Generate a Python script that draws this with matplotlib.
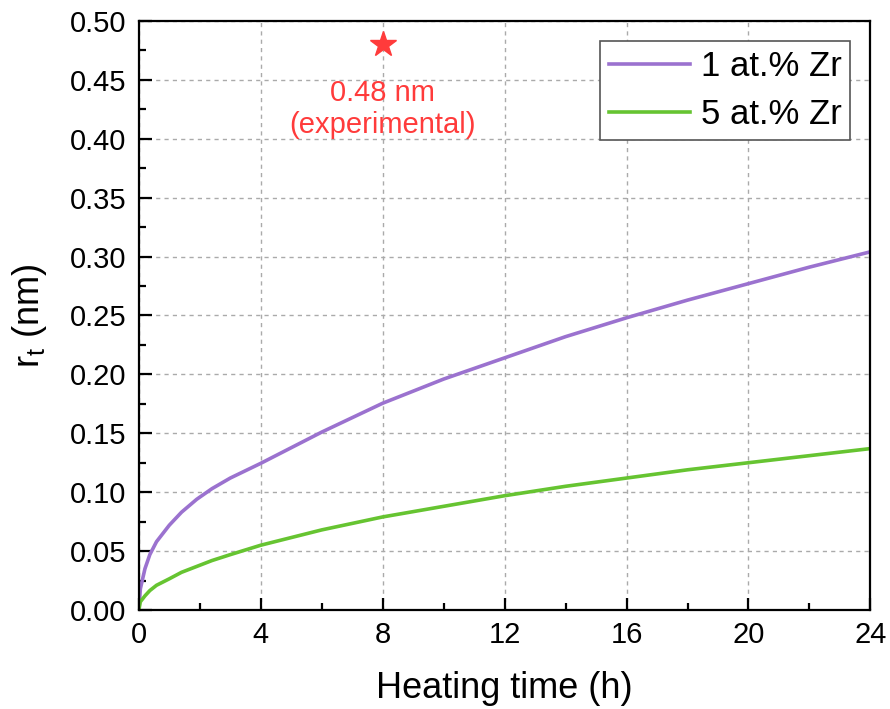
import matplotlib
matplotlib.use("Agg")
import matplotlib.pyplot as plt
from matplotlib.ticker import MultipleLocator

plt.rcParams["font.family"] = ["Liberation Sans", "DejaVu Sans"]
plt.rcParams["mathtext.fontset"] = "custom"
plt.rcParams["mathtext.rm"] = "Liberation Sans"

# heating time (h) and radius (nm)
time_h = [0, 0.05, 0.2, 0.36, 0.58, 1, 1.4, 1.9, 2.4, 3, 4, 6, 8, 10, 12, 14, 16,
          18, 20, 22, 24]
r_1zr = [0, 0.018, 0.035, 0.047, 0.058, 0.072, 0.083, 0.094, 0.103, 0.112, 0.1245,
         0.151, 0.1755, 0.196, 0.214, 0.232, 0.248, 0.263, 0.277, 0.291, 0.304]
r_5zr = [0, 0.007, 0.012, 0.0165, 0.021, 0.0265, 0.032, 0.037, 0.042, 0.047, 0.055,
         0.068, 0.079, 0.088, 0.097, 0.105, 0.112, 0.119, 0.125, 0.131, 0.137]
exp_t = 8
exp_r = 0.48

C_PURPLE = "#9b72cf"
C_GREEN = "#66c431"
C_RED = "#ff3b3b"

fig = plt.figure(figsize=(8.9, 7.09), dpi=100)
ax = fig.add_axes([0.156, 0.1396, 0.822, 0.831])

ax.plot(time_h, r_1zr, color=C_PURPLE, lw=2.6, label="1 at.% Zr")
ax.plot(time_h, r_5zr, color=C_GREEN, lw=2.6, label="5 at.% Zr")
ax.plot([exp_t], [exp_r], marker="*", ms=19, color=C_RED, ls="none")
ax.text(exp_t, 0.425, "0.48 nm\n(experimental)", color=C_RED, fontsize=21,
        ha="center", va="center", linespacing=1.2)

ax.set_xlim(0, 24)
ax.set_ylim(0, 0.5)
ax.xaxis.set_major_locator(MultipleLocator(4))
ax.xaxis.set_minor_locator(MultipleLocator(2))
ax.yaxis.set_major_locator(MultipleLocator(0.05))
ax.yaxis.set_minor_locator(MultipleLocator(0.025))
ax.yaxis.set_major_formatter(lambda v, p: f"{v:.2f}")

ax.tick_params(which="both", direction="in", top=False, right=False,
               labelsize=21, width=1.6)
ax.tick_params(axis="x", pad=8)
ax.tick_params(axis="y", pad=9)
ax.tick_params(which="major", length=9)
ax.tick_params(which="minor", length=5)
ax.grid(True, which="major", ls=(0, (3, 3)), color="#aaaaaa", lw=1.0)
for sp in ax.spines.values():
    sp.set_linewidth(1.6)

ax.set_xlabel("Heating time (h)", fontsize=26)
ax.set_ylabel(r"r$_\mathregular{t}$ (nm)", fontsize=26)
ax.xaxis.set_label_coords(0.5, -0.103)
ax.yaxis.set_label_coords(-0.123, 0.5)

leg = ax.legend(loc="upper right", fontsize=25, fancybox=False, framealpha=1,
                edgecolor="#555555", handlelength=2.35, borderaxespad=0.58,
                handletextpad=0.3, borderpad=0.25, labelspacing=0.45)
leg.get_frame().set_linewidth(1.2)

fig.savefig("out.png", dpi=100)
